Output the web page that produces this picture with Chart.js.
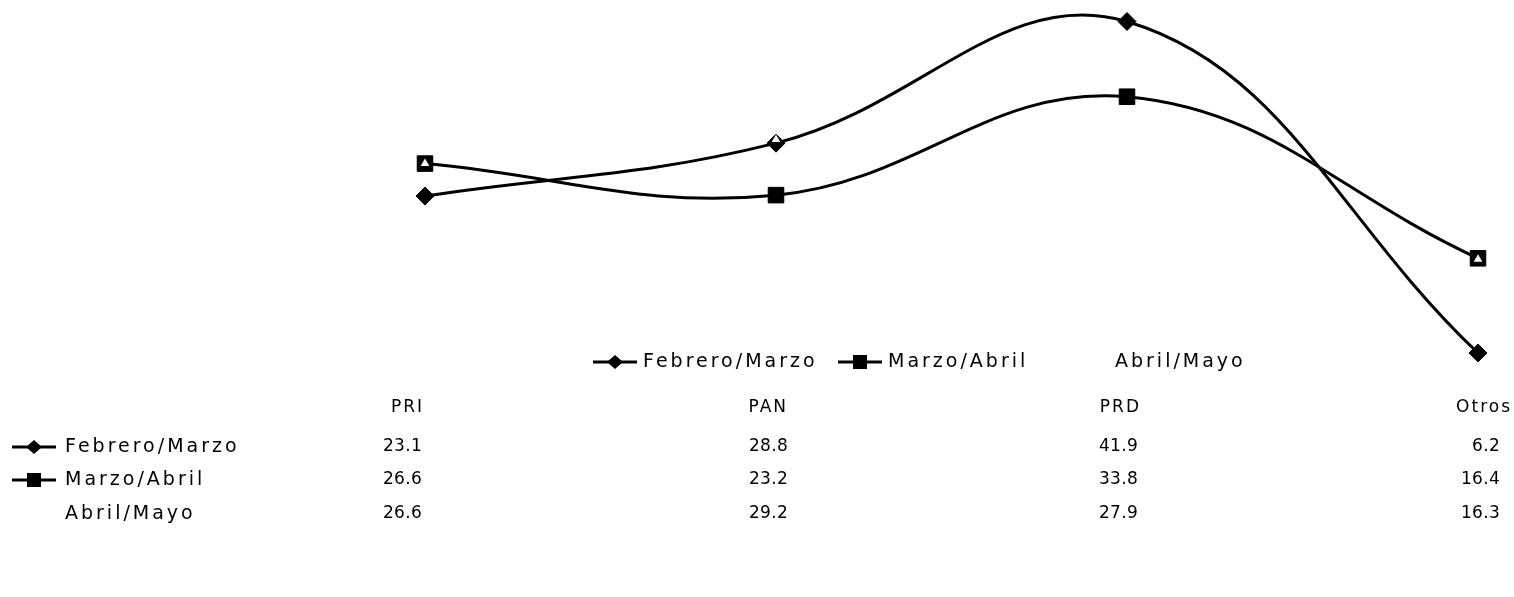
<!DOCTYPE html>
<html>
<head>
<meta charset="utf-8">
<script src="https://cdn.jsdelivr.net/npm/chart.js@4.4.1/dist/chart.umd.min.js"></script>
<style>
  html, body { margin: 0; padding: 0; background: #fff; }
  #wrap { width: 1514px; height: 597px; position: relative; }
</style>
</head>
<body>
<div id="wrap"><canvas id="chart"></canvas></div>
<script>
// datos del gráfico
const partidos = ['PRI', 'PAN', 'PRD', 'Otros'];
const febreroMarzo = [23.1, 28.8, 41.9, 6.2];
const marzoAbril = [26.6, 23.2, 33.8, 16.4];
const abrilMayo = [26.6, 29.2, 27.9, 16.3];
const series = ['Febrero/Marzo', 'Marzo/Abril', 'Abril/Mayo'];

const FONT = '"DejaVu Sans", sans-serif';
const ink = '#000';

// dibuja el simbolo de la serie (linea + marcador)
function drawSymbol(ctx, x0, x1, y, style) {
    if (style === 'none') return;
    ctx.save();
    ctx.strokeStyle = ink;
    ctx.fillStyle = ink;
    ctx.lineWidth = 3;
    ctx.beginPath();
    ctx.moveTo(x0, y);
    ctx.lineTo(x1, y);
    ctx.stroke();
    const cx = (x0 + x1) / 2;
    ctx.beginPath();
    if (style === 'diamond') {
        ctx.moveTo(cx, y - 7); ctx.lineTo(cx + 8, y); ctx.lineTo(cx, y + 7); ctx.lineTo(cx - 8, y);
        ctx.closePath();
        ctx.fill();
    } else {
        ctx.fillRect(cx - 7, y - 7, 14, 14);
    }
    ctx.restore();
}

const symbolos = ['diamond', 'square', 'none'];

// leyenda y tabla de datos debajo del gráfico
const tablaPlugin = {
    id: 'tabla',
    afterDraw(chart) {
        const ctx = chart.ctx;
        const xs = chart.scales.x;
        const palabras = '19px ' + FONT;
        const numeros = '17px ' + FONT;
        ctx.save();
        ctx.fillStyle = ink;
        ctx.textBaseline = 'middle';

        // leyenda
        const legY = 362;
        const legX = [593, 838, 1065];
        ctx.font = palabras;
        ctx.letterSpacing = '3px';
        series.forEach((s, i) => {
            drawSymbol(ctx, legX[i], legX[i] + 44, legY, symbolos[i]);
            ctx.textAlign = 'left';
            ctx.fillText(s, legX[i] + 50, legY);
        });

        // encabezados
        const headOffset = [-1, 12, 14, 34];
        const colOffset = [-3, 12, 11, 22];
        ctx.font = '17px ' + FONT;
        ctx.letterSpacing = '2px';
        ctx.textAlign = 'right';
        partidos.forEach((p, i) => {
            ctx.fillText(p, xs.getPixelForValue(i) + headOffset[i], 408);
        });

        // filas
        const datos = [febreroMarzo, marzoAbril, abrilMayo];
        const rowY = [447, 480, 514];
        datos.forEach((row, r) => {
            drawSymbol(ctx, 12, 56, rowY[r], symbolos[r]);
            ctx.font = palabras;
            ctx.letterSpacing = '3px';
            ctx.textAlign = 'left';
            ctx.fillText(series[r], 65, rowY[r]);
            ctx.font = numeros;
            ctx.letterSpacing = '0.3px';
            ctx.textAlign = 'right';
            row.forEach((v, i) => {
                ctx.fillText(v.toFixed(1), xs.getPixelForValue(i) + colOffset[i], rowY[r]);
            });
        });
        ctx.restore();
    }
};

new Chart(document.getElementById('chart'), {
    type: 'line',
    data: {
        labels: partidos,
        datasets: [{
            label: series[2],
            data: abrilMayo,
            showLine: false,
            pointStyle: 'triangle',
            pointRadius: 5,
            backgroundColor: '#fff',
            borderColor: '#fff',
            pointBorderWidth: 0,
            order: 0
        }, {
            label: series[0],
            data: febreroMarzo,
            borderColor: ink,
            backgroundColor: ink,
            borderWidth: 3,
            pointStyle: 'rectRot',
            pointRadius: 9,
            pointBorderWidth: 1,
            tension: 0.4,
            order: 1
        }, {
            label: series[1],
            data: marzoAbril,
            borderColor: ink,
            backgroundColor: ink,
            borderWidth: 3,
            pointStyle: 'rect',
            pointRadius: 11,
            pointBorderWidth: 1,
            tension: 0.4,
            order: 2
        }]
    },
    options: {
        responsive: true,
        maintainAspectRatio: false,
        animation: false,
        layout: { autoPadding: false, padding: { left: 425, right: 36, top: 2, bottom: 205 } },
        elements: { line: { capBezierPoints: false } },
        scales: {
            x: { display: false, offset: false },
            y: { display: false, min: 2, max: 44 }
        },
        plugins: {
            legend: { display: false },
            tooltip: { enabled: false }
        }
    },
    plugins: [tablaPlugin]
});
</script>
</body>
</html>
